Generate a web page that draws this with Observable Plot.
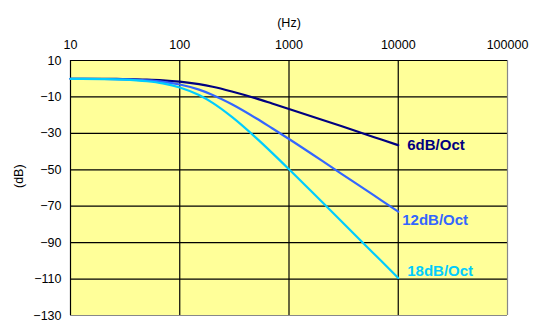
<!DOCTYPE html>
<html><head><meta charset="utf-8">
<script src="https://cdn.jsdelivr.net/npm/d3@7"></script>
<script src="https://cdn.jsdelivr.net/npm/@observablehq/plot@0.6"></script>
<style>
body{margin:0;background:#fff;}
svg{display:block;}
</style></head>
<body><div id="chart"></div>
<script>
const freqs = [10, 20, 30, 50, 70, 100, 150, 200, 300, 500, 700, 1000, 2000, 3000, 5000, 7000, 10000];
const db6  = [-0.02, -0.08, -0.17, -0.46, -0.86, -1.6, -3.0, -4.4, -7.0, -10.8, -13.6, -16.6, -22.5, -26.0, -30.5, -33.4, -36.5];
const db12 = [-0.04, -0.15, -0.34, -0.92, -1.7, -3.2, -6.0, -8.9, -14.0, -21.7, -27.2, -33.1, -45.0, -52.1, -60.9, -66.8, -73.0];
const db18 = [-0.06, -0.23, -0.51, -1.4, -2.6, -4.8, -9.0, -13.3, -21.0, -32.5, -40.7, -49.7, -67.6, -78.1, -91.4, -100.1, -109.4];
const seriesNames = ["6dB/Oct", "12dB/Oct", "18dB/Oct"];
const seriesColors = ["#000080", "#3366FF", "#00CCFF"];
const xTicks = [10, 100, 1000, 10000, 100000];
const yTicks = [10, -10, -30, -50, -70, -90, -110, -130];

const allSeries = [db6, db12, db18];
const rows = [];
allSeries.forEach((vals, i) => vals.forEach((v, j) => rows.push({f: freqs[j], db: v, s: seriesNames[i]})));
const ends = seriesNames.map((s, i) => ({f: freqs[freqs.length - 1], db: allSeries[i][allSeries[i].length - 1], s}));
const labelOffsets = [{dx: 9, dy: 0}, {dx: 4, dy: 9}, {dx: 9, dy: -7}];

const font = "Liberation Sans, Arial, sans-serif";
const chart = Plot.plot({
  width: 535, height: 331,
  marginLeft: 70, marginRight: 28, marginTop: 60, marginBottom: 16,
  style: {fontFamily: font, fontSize: "12.5px", background: "#fff", color: "#000"},
  x: {type: "log", domain: [10, 100000], axis: null},
  y: {domain: [-130, 10], axis: null},
  marks: [
    Plot.frame({fill: "#FFFF99", stroke: null}),
    Plot.ruleX(xTicks.slice(1, -1), {stroke: "#000", strokeWidth: 1.2}),
    Plot.ruleY(yTicks.slice(1, -1), {stroke: "#000", strokeWidth: 1.2}),
    Plot.ruleY([-130], {stroke: "#888", strokeWidth: 1.2}),
    Plot.ruleX([100000], {stroke: "#888", strokeWidth: 1.2}),
    Plot.ruleY([10], {stroke: "#000", strokeWidth: 1.2}),
    Plot.ruleX([10], {stroke: "#000", strokeWidth: 1.2}),
    Plot.axisX({anchor: "top", ticks: xTicks, tickFormat: d => String(d), tickSize: 0, tickPadding: 12, fontSize: 12.5, label: null}),
    Plot.axisY({ticks: yTicks, tickFormat: d => d < 0 ? "\u2212" + Math.abs(d) : String(d), tickSize: 0, tickPadding: 9, fontSize: 12.5, label: null}),
    Plot.line(rows, {x: "f", y: "db", z: "s", stroke: d => seriesColors[seriesNames.indexOf(d.s)], strokeWidth: 2.2, curve: "monotone-x"}),
    ...ends.map((e, i) => Plot.text([e], {x: "f", y: "db", text: "s", textAnchor: "start", dx: labelOffsets[i].dx, dy: labelOffsets[i].dy, fill: seriesColors[i], fontSize: 15, fontWeight: "bold"})),
    Plot.text(["(Hz)"], {frameAnchor: "top", dy: -42, text: d => d, fontSize: 12.5}),
    Plot.text(["(dB)"], {frameAnchor: "left", dx: -52, dy: 0, rotate: -90, text: d => d, fontSize: 12.5})
  ]
});
document.getElementById("chart").appendChild(chart);
</script></body></html>
